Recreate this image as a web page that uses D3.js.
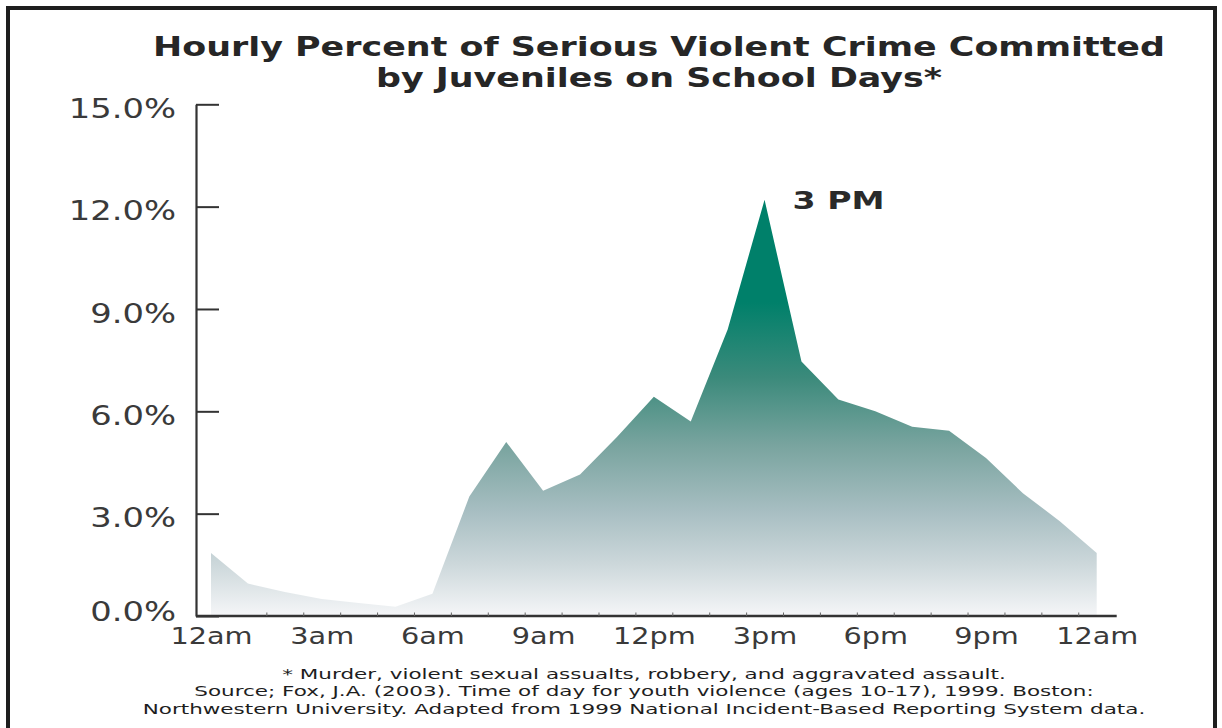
<!DOCTYPE html>
<html>
<head>
<meta charset="utf-8">
<script src="https://cdn.jsdelivr.net/npm/d3@7"></script>
<style>
  html, body { margin: 0; padding: 0; background: #ffffff; }
  svg { display: block; }
</style>
</head>
<body>
<svg id="chart" width="1222" height="728"></svg>
<script>
// Hour of day (0 = midnight, 24 = the following midnight)
const hours = [0, 1, 2, 3, 4, 5, 6, 7, 8, 9, 10, 11, 12, 13, 14, 15, 16, 17, 18, 19, 20, 21, 22, 23, 24];
// Percent of serious violent juvenile crime committed in each hour
const percents = [1.85, 0.95, 0.7, 0.5, 0.38, 0.27, 0.65, 3.5, 5.1, 3.67, 4.15, 5.25, 6.43, 5.7, 8.4, 12.2, 7.46, 6.35, 6.0, 5.55, 5.43, 4.63, 3.6, 2.78, 1.85];
// Axis ticks
const xTickHours = [0, 3, 6, 9, 12, 15, 18, 21, 24];
const xTickLabels = ["12am", "3am", "6am", "9am", "12pm", "3pm", "6pm", "9pm", "12am"];
const yTickValues = [0, 3, 6, 9, 12, 15];
const minorTickHours = [1.5, 2.5, 3.5, 4.5, 5.5, 6.5, 7.5, 8.5, 9.5, 10.5, 11.5, 12.5, 13.5, 14.5, 15.5, 16.5, 17.5, 18.5, 19.5, 20.5, 21.5, 22.5, 23.5];
// Text
const titleLines = ["Hourly Percent of Serious Violent Crime Committed", "by Juveniles on School Days*"];
const peakLabel = "3 PM";
const peakHour = 15;
const footnoteLines = [
  "* Murder, violent sexual assualts, robbery, and aggravated assault.",
  "Source; Fox, J.A. (2003). Time of day for youth violence (ages 10-17), 1999. Boston:",
  "Northwestern University. Adapted from 1999 National Incident-Based Reporting System data."
];

const svg = d3.select("#chart");
const FONT = "'DejaVu Sans', Verdana, sans-serif";
const STRETCH = 1.25;   // wide lettering

// Layout
const axisX = 196, axisBottom = 616;
const x = d3.scaleLinear().domain([0, 24]).range([211, 1096.7]);
const y = d3.scaleLinear().domain([0, 15]).range([axisBottom, 104.3]);

// Outer frame
svg.append("rect")
  .attr("x", 8).attr("y", 8).attr("width", 1207).attr("height", 760)
  .attr("fill", "none").attr("stroke", "#1e1e1e").attr("stroke-width", 4);

// Vertical gradient for the area
const defs = svg.append("defs");
const grad = defs.append("linearGradient")
  .attr("id", "areaFill")
  .attr("gradientUnits", "userSpaceOnUse")
  .attr("x1", 0).attr("x2", 0)
  .attr("y1", y(9.2)).attr("y2", y(0));
const stops = [
  [9.2, "#00806a"],
  [7.0, "#3b8a7b"],
  [5.0, "#79a49f"],
  [3.0, "#a9bfc3"],
  [1.5, "#cdd8db"],
  [0.0, "#f5f6f8"]
];
stops.forEach(([v, c]) => {
  grad.append("stop")
    .attr("offset", (y(v) - y(9.2)) / (y(0) - y(9.2)))
    .attr("stop-color", c);
});

// Area
const area = d3.area()
  .x((d, i) => x(hours[i]))
  .y0(y(0))
  .y1(d => y(d))
  .curve(d3.curveLinear);
svg.append("path")
  .datum(percents)
  .attr("d", area)
  .attr("fill", "url(#areaFill)");

// Helper: stretch text horizontally around its anchor
function stretch(sel, sx) {
  sel.each(function () {
    const t = d3.select(this);
    const xx = +t.attr("x") || 0;
    t.attr("x", xx / sx).attr("transform", `scale(${sx},1)`);
  });
}

// Y axis (ticks point into the plot)
const yAxis = d3.axisLeft(y)
  .tickValues(yTickValues)
  .tickFormat(d => d3.format(".1f")(d) + "%")
  .tickSizeInner(-23)
  .tickSizeOuter(0)
  .tickPadding(20);
const gy = svg.append("g")
  .attr("transform", `translate(${axisX},0)`)
  .call(yAxis);
gy.select(".domain").attr("stroke", "#333").attr("stroke-width", 2.2);
gy.selectAll(".tick line").attr("stroke", "#333").attr("stroke-width", 2);
gy.selectAll(".tick text")
  .attr("font-family", FONT).attr("font-size", 27).attr("fill", "#3a3a3a")
  .attr("dy", "0.36em")
  .attr("y", d => d === 0 ? -5 : 3.5);
stretch(gy.selectAll(".tick text"), STRETCH);

// X axis baseline
svg.append("line")
  .attr("x1", axisX).attr("x2", x(24) + 20)
  .attr("y1", axisBottom).attr("y2", axisBottom)
  .attr("stroke", "#333").attr("stroke-width", 2.4);

// Hourly minor ticks
const gMinor = svg.append("g")
  .attr("transform", `translate(0,${axisBottom})`)
  .call(d3.axisBottom(x).tickValues(minorTickHours).tickSize(-3.5).tickFormat(""));
gMinor.select(".domain").remove();
gMinor.selectAll(".tick line").attr("stroke", "#666").attr("stroke-width", 1);

// X axis labels
const gx = svg.append("g")
  .attr("transform", `translate(0,${axisBottom})`)
  .call(d3.axisBottom(x).tickValues(xTickHours)
    .tickFormat((d, i) => xTickLabels[i]).tickSize(0).tickPadding(12));
gx.select(".domain").remove();
gx.selectAll(".tick text")
  .attr("font-family", FONT).attr("font-size", 23).attr("fill", "#3a3a3a");
stretch(gx.selectAll(".tick text"), STRETCH);

// Peak annotation
const peakText = svg.append("g")
  .attr("transform", `translate(${x(peakHour) + 28},${y(percents[hours.indexOf(peakHour)]) + 9})`)
  .append("text")
  .attr("font-family", FONT).attr("font-size", 24).attr("font-weight", "bold")
  .attr("fill", "#2a2a2a")
  .text(peakLabel);
peakText.attr("transform", `scale(${92 / peakText.node().getComputedTextLength()},1)`);

// Title
const gTitle = svg.append("g").attr("transform", "translate(659,0)");
const titleTexts = gTitle.selectAll("text").data(titleLines).join("text")
  .attr("y", (d, i) => 56 + i * 31)
  .attr("text-anchor", "middle")
  .attr("font-family", FONT).attr("font-size", 27).attr("font-weight", "bold")
  .attr("fill", "#262626")
  .text(d => d);
const titleScale = 1012 / titleTexts.nodes()[0].getComputedTextLength();
titleTexts.attr("transform", `scale(${titleScale},1)`);

// Footnote
const gFoot = svg.append("g").attr("transform", "translate(644,0)");
const footTexts = gFoot.selectAll("text").data(footnoteLines).join("text")
  .attr("y", (d, i) => 679 + i * 17.5)
  .attr("text-anchor", "middle")
  .attr("font-family", FONT).attr("font-size", 14)
  .attr("fill", "#1e1e1e")
  .text(d => d);
const footScale = 1003 / footTexts.nodes()[2].getComputedTextLength();
footTexts.attr("transform", `scale(${footScale},1)`);
</script>
</body>
</html>
